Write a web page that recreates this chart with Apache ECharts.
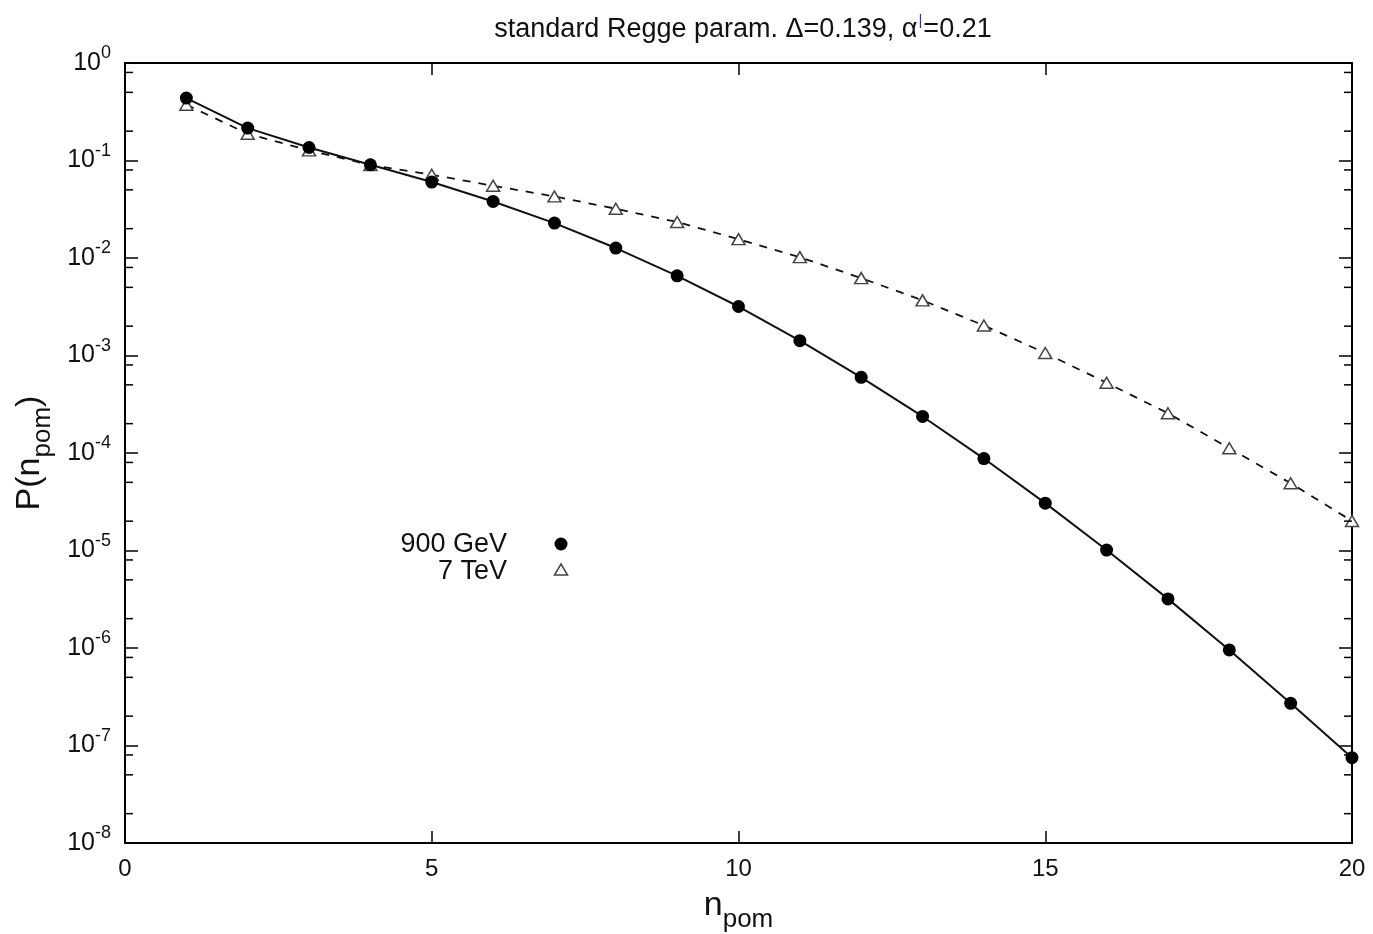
<!DOCTYPE html>
<html>
<head>
<meta charset="utf-8">
<script src="https://cdn.jsdelivr.net/npm/echarts@6.0.0/dist/echarts.min.js"></script>
<style>
  html, body { margin: 0; padding: 0; background: #fff; }
  #chart { width: 1373px; height: 934px; }
</style>
</head>
<body>
<div id="chart"></div>
<script>
// Pomeron-number distributions P(n_pom)
const nPom = [1, 2, 3, 4, 5, 6, 7, 8, 9, 10, 11, 12, 13, 14, 15, 16, 17, 18, 19, 20];
const p900GeV = [0.437, 0.215, 0.136, 0.0905, 0.0601, 0.0380, 0.0228, 0.01265, 0.00657, 0.00318,
                 0.00142, 5.97e-4, 2.37e-4, 8.77e-5, 3.06e-5, 1.01e-5, 3.19e-6, 9.55e-7, 2.71e-7, 7.5e-8];
const p7TeV = [0.373, 0.188, 0.127, 0.090, 0.0714, 0.0551, 0.0428, 0.0320, 0.0234, 0.0156,
               0.0102, 0.00622, 0.00368, 0.00203, 0.00106, 5.25e-4, 2.56e-4, 1.12e-4, 4.9e-5, 2.01e-5];
const seriesNames = ['900 GeV', '7 TeV'];
const xRange = [0, 20];
const yRange = [1e-8, 1];
// minor tick mantissas within every decade
const minorMantissas = [2, 5, 8];
const minorExponents = [-8, -7, -6, -5, -4, -3, -2, -1];

const yMinorTicks = [];
minorExponents.forEach(e => minorMantissas.forEach(m => yMinorTicks.push(m * Math.pow(10, e))));

const FONT = '"Liberation Sans", Arial, sans-serif';
const chart = echarts.init(document.getElementById('chart'));

const frameLine = { show: true, onZero: false, lineStyle: { color: '#000', width: 2 } };

chart.setOption({
  animation: false,
  backgroundColor: '#fff',
  title: {
    text: '{t|standard Regge param. \u0394=0.139, \u03b1}{p||}{t|=0.21}',
    left: 738,
    textAlign: 'center',
    top: 8,
    textStyle: {
      fontWeight: 'normal',
      rich: {
        t: { fontFamily: FONT, fontSize: 27, fontWeight: 'normal', color: '#111', lineHeight: 30, verticalAlign: 'bottom' },
        p: { fontFamily: FONT, fontSize: 15, fontWeight: 'normal', color: '#4b2a7a', lineHeight: 15, padding: [0, 1, 15, 1], verticalAlign: 'bottom' }
      }
    }
  },
  grid: { left: 125, right: 21, top: 63, bottom: 91, containLabel: false, outerBoundsMode: 'none' },
  xAxis: [
    {
      type: 'value', min: xRange[0], max: xRange[1], interval: 5,
      position: 'bottom',
      axisLine: frameLine,
      axisTick: { show: true, inside: true, length: 12, lineStyle: { color: '#000', width: 1.5 } },
      splitLine: { show: false },
      axisLabel: { fontFamily: FONT, fontSize: 24, color: '#111', margin: 14 },
      name: '{n|n}{s|pom}',
      nameLocation: 'middle',
      nameGap: 46,
      nameTextStyle: {
        rich: {
          n: { fontFamily: FONT, fontSize: 34, color: '#111', lineHeight: 34, verticalAlign: 'top' },
          s: { fontFamily: FONT, fontSize: 26, color: '#111', lineHeight: 26, padding: [18, 0, 0, 0], verticalAlign: 'top' }
        }
      }
    },
    {
      type: 'value', min: xRange[0], max: xRange[1], interval: 5,
      position: 'top',
      axisLine: frameLine,
      axisTick: { show: true, inside: true, length: 12, lineStyle: { color: '#000', width: 1.5 } },
      splitLine: { show: false },
      axisLabel: { show: false }
    }
  ],
  yAxis: [
    {
      type: 'log', logBase: 10, min: yRange[0], max: yRange[1], splitNumber: 8,
      position: 'left',
      axisLine: frameLine,
      axisTick: { show: true, inside: true, length: 13, lineStyle: { color: '#000', width: 1.5 } },
      splitLine: { show: false },
      axisLabel: {
        margin: 14,
        formatter: v => '{b|10}{e|' + Math.round(Math.log10(v)) + '}',
        rich: {
          b: { fontFamily: FONT, fontSize: 25, color: '#111', lineHeight: 25, verticalAlign: 'bottom' },
          e: { fontFamily: FONT, fontSize: 18, color: '#111', lineHeight: 18, padding: [0, 0, 13, 0], verticalAlign: 'bottom' }
        }
      },
      name: '{n|P(n}{s|pom}{n|)}',
      nameLocation: 'middle',
      nameGap: 76,
      nameRotate: 90,
      nameTextStyle: {
        rich: {
          n: { fontFamily: FONT, fontSize: 34, color: '#111', lineHeight: 34, verticalAlign: 'top' },
          s: { fontFamily: FONT, fontSize: 26, color: '#111', lineHeight: 26, padding: [18, 0, 0, 0], verticalAlign: 'top' }
        }
      }
    },
    {
      type: 'log', logBase: 10, min: yRange[0], max: yRange[1], splitNumber: 8,
      position: 'right',
      axisLine: frameLine,
      axisTick: { show: true, inside: true, length: 13, lineStyle: { color: '#000', width: 1.5 } },
      splitLine: { show: false },
      axisLabel: { show: false }
    }
  ],
  graphic: [
    { type: 'text', right: 1373 - 507, top: 531,
      style: { text: seriesNames[0], font: '27px ' + FONT, fill: '#111', textAlign: 'right' } },
    { type: 'circle', shape: { cx: 561, cy: 544, r: 6.5 }, style: { fill: '#000' } },
    { type: 'text', right: 1373 - 507, top: 558,
      style: { text: seriesNames[1], font: '27px ' + FONT, fill: '#111', textAlign: 'right' } },
    { type: 'polygon', shape: { points: [[561, 564], [567.5, 575], [554.5, 575]] },
      style: { fill: '#fff', stroke: '#444', lineWidth: 1.5 } }
  ],
  series: [
    {
      // minor decade ticks (2, 5, 8) on both vertical frame edges
      type: 'custom',
      xAxisIndex: 0, yAxisIndex: 0,
      silent: true, clip: false, z: 10,
      data: yMinorTicks.map(v => [xRange[0], v]),
      encode: { x: 0, y: 1 },
      renderItem: (params, api) => {
        const v = api.value(1);
        const l = api.coord([xRange[0], v]);
        const r = api.coord([xRange[1], v]);
        return {
          type: 'group',
          children: [
            { type: 'line', shape: { x1: l[0], y1: l[1], x2: l[0] + 8, y2: l[1] }, style: { stroke: '#000', lineWidth: 1.5 } },
            { type: 'line', shape: { x1: r[0] - 8, y1: r[1], x2: r[0], y2: r[1] }, style: { stroke: '#000', lineWidth: 1.5 } }
          ]
        };
      }
    },
    {
      name: seriesNames[1],
      type: 'line',
      data: nPom.map((n, i) => [n, p7TeV[i]]),
      symbol: 'triangle',
      symbolSize: [13, 11],
      showAllSymbol: true,
      lineStyle: { color: '#111', width: 1.8, type: [8, 8] },
      itemStyle: { color: '#fff', borderColor: '#444', borderWidth: 1.5 },
      z: 3
    },
    {
      name: seriesNames[0],
      type: 'line',
      data: nPom.map((n, i) => [n, p900GeV[i]]),
      symbol: 'circle',
      symbolSize: 13,
      showAllSymbol: true,
      lineStyle: { color: '#111', width: 2 },
      itemStyle: { color: '#000', borderWidth: 0 },
      z: 4
    }
  ]
});
</script>
</body>
</html>
